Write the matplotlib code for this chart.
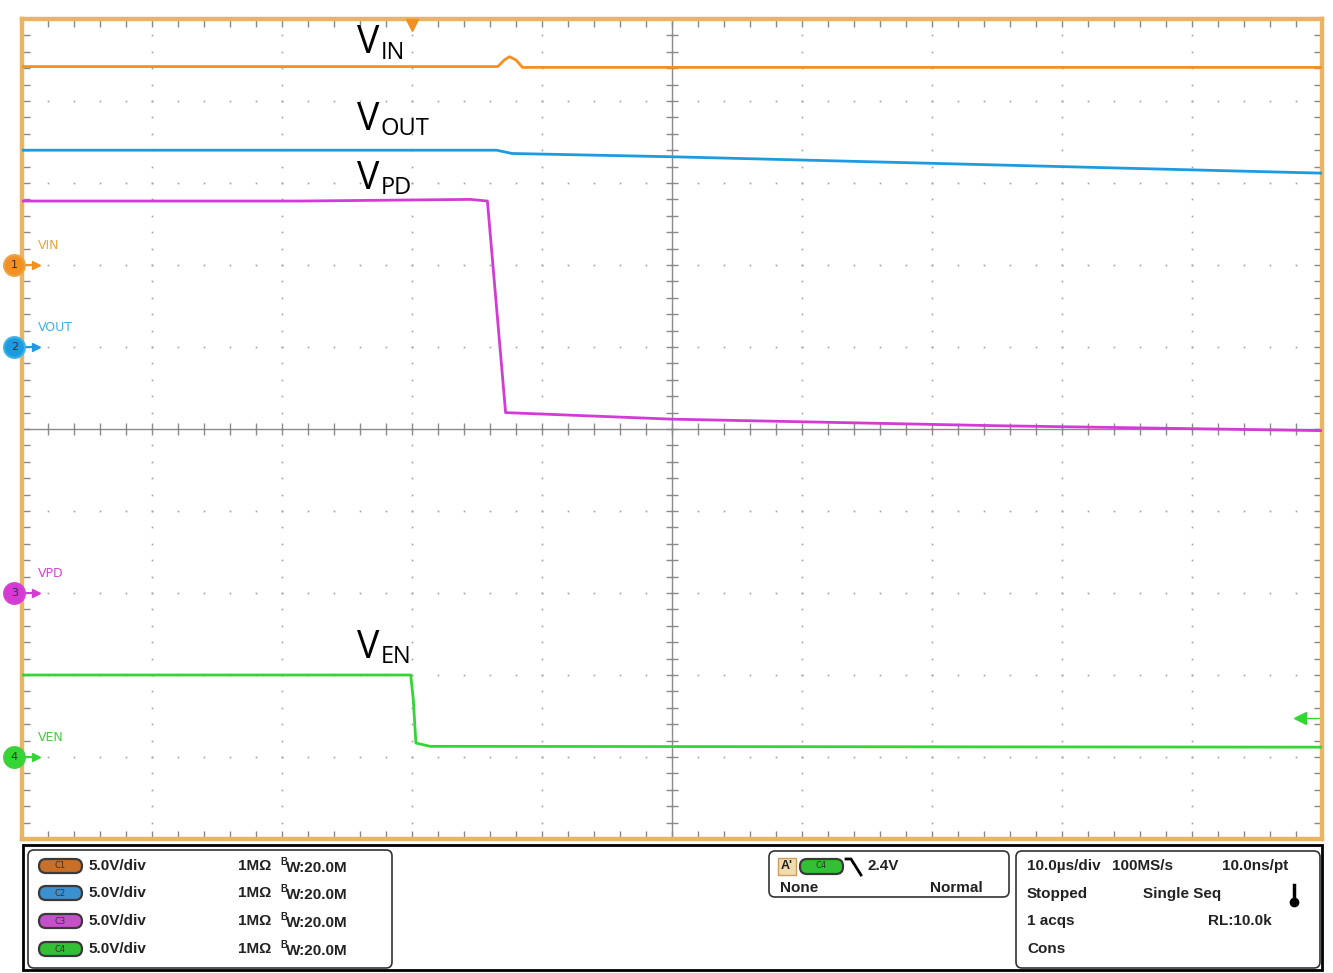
import numpy as np
import matplotlib.pyplot as plt
from matplotlib.patches import FancyBboxPatch, Rectangle

# scope capture: time in µs (trigger at 0), channel voltages in V
t_vin = [-30, 6.6, 7.1, 7.5, 8.0, 8.5, 70]
v_vin = [12.1, 12.1, 12.5, 12.7, 12.5, 12.05, 12.05]
t_vout = [-30, 6.5, 7.7, 20, 45, 70]
v_vout = [12.0, 12.0, 11.8, 11.6, 11.1, 10.6]
t_vpd = [-30, -8.6, 4.5, 5.8, 7.2, 20, 45, 70]
v_vpd = [23.9, 23.9, 24.0, 23.9, 11.0, 10.6, 10.2, 9.9]
t_ven = [-30, -0.1, 0.1, 0.3, 1.4, 70]
v_ven = [5.0, 5.0, 3.5, 0.85, 0.65, 0.6]

names = ["VIN", "VOUT", "VPD", "VEN"]
subscripts = ["IN", "OUT", "PD", "EN"]
offsets = [2, 1, -2, -4]          # channel ground position in divisions
volts_per_div = 5.0
trig_level = 2.4                  # on C4
scale_text = ["5.0V/div"] * 4

colors = ["#f39020", "#1e9be0", "#d43ad4", "#33d633"]
label_colors = ["#e9a446", "#3ab4e4", "#d444d4", "#44cc44"]
pill_colors = ["#c8702a", "#3a90d0", "#c650c8", "#34c034"]

W, H = 1333, 973
fig = plt.figure(figsize=(W / 100, H / 100), dpi=100)
ax = fig.add_axes([22 / W, 134 / H, 1300 / W, 820 / H])
ax.set_xlim(-30, 70)
ax.set_ylim(-5, 5)

# graticule: dots on division lines, centre cross with ticks
gx, gy = np.meshgrid(np.arange(-30, 71, 10), np.arange(-5, 5.01, 0.2))
ax.plot(gx.ravel(), gy.ravel(), ls="none", marker="s", ms=1.2, color="#a0a0a0", mew=0)
gx, gy = np.meshgrid(np.arange(-30, 71, 2), np.arange(-5, 6, 1))
ax.plot(gx.ravel(), gy.ravel(), ls="none", marker="s", ms=1.2, color="#a0a0a0", mew=0)
ax.axvline(20, color="#8a8a8a", lw=1)
ax.axhline(0, color="#8a8a8a", lw=1)
ys = np.arange(-5, 5.01, 0.2)
ax.plot(np.full(len(ys), 20), ys, ls="none", marker="_", ms=8, color="#8a8a8a")
xs = np.arange(-30, 71, 2)
ax.plot(xs, np.zeros(len(xs)), ls="none", marker="|", ms=8, color="#8a8a8a")

ax.set_xticks(np.arange(-30, 71, 2))
ax.set_yticks(np.arange(-5, 5.01, 0.2))
ax.tick_params(direction="in", length=6, width=1, color="#888888", top=True, right=True,
               labelbottom=False, labelleft=False)
for s in ax.spines.values():
    s.set_color("#e8b466")
    s.set_linewidth(3.2)

# traces
traces = [(t_vin, v_vin), (t_vout, v_vout), (t_vpd, v_vpd), (t_ven, v_ven)]
for (t, v), off, c in zip(traces, offsets, colors):
    ax.plot(t, np.array(v) / volts_per_div + off, color=c, lw=2, zorder=5)

# big annotations: V with a subscript
ann_x = -4.2
ann_y = [4.58, 3.65, 2.93, -2.79]
for sub, y in zip(subscripts, ann_y):
    ax.text(ann_x, y, "V", family="Open Sans", fontsize=27, color="black",
            va="baseline", ha="left", zorder=6)
    ax.annotate(sub, xy=(ann_x, y), xytext=(16.5, -4), textcoords="offset points",
                family="Open Sans", fontsize=17, color="black", va="baseline", ha="left",
                zorder=6)

# channel ground markers
for i, (off, c, lc, nm) in enumerate(zip(offsets, colors, label_colors, names)):
    ax.plot([-30.6, -28.9], [off, off], color=c, lw=1.5, clip_on=False, zorder=7)
    ax.plot(-28.9, off, marker=">", ms=6, color=c, clip_on=False, zorder=7)
    ax.plot(-30.6, off, marker="o", ms=15, mfc=c, mec=lc, mew=1.5, clip_on=False, zorder=8)
    ax.text(-30.6, off, str(i + 1), fontsize=8, color="#333333", ha="center", va="center",
            zorder=9, clip_on=False)
    ax.text(-28.8, off + 0.24, nm, fontsize=9, color=lc, ha="left", va="center")

# trigger markers
ax.plot(0, 4.93, marker="v", ms=9, color=colors[0], clip_on=False, zorder=8)
ty = trig_level / volts_per_div + offsets[3]
ax.plot([68.3, 70], [ty, ty], color=colors[3], lw=1, clip_on=False)
ax.plot(68.3, ty, marker="<", ms=8, color=colors[3], clip_on=False)

# bottom status panel (pixel coordinates)
ov = fig.add_axes([0, 0, 1, 1])
ov.set_xlim(0, W)
ov.set_ylim(H, 0)
ov.axis("off")
ov.patch.set_alpha(0)

ov.add_patch(Rectangle((23, 845), 1299, 125, fill=False, ec="black", lw=2))


def rbox(x0, y0, x1, y1, r=6, fc="none", ec="#333333", lw=1.2):
    ov.add_patch(FancyBboxPatch((x0, y0), x1 - x0, y1 - y0,
                                boxstyle=f"round,pad=0,rounding_size={r}",
                                fc=fc, ec=ec, lw=lw))


rbox(28, 850, 392, 968)
rbox(769, 851, 1009, 897)
rbox(1016, 851, 1320, 968)

pf = dict(family="Liberation Sans", weight="bold", fontsize=11, color="#222222", va="center")
rows = [866, 893, 921, 949]
for i, (y, pc, st) in enumerate(zip(rows, pill_colors, scale_text)):
    rbox(39, y - 7, 82, y + 7, r=7, fc=pc, ec="#3a3a3a", lw=1.6)
    ov.text(60, y, f"C{i + 1}", fontsize=6, color="#333333", ha="center", va="center")
    ov.text(88, y, st, **pf)
    ov.text(238, y, "1MΩ", **pf)
    ov.text(280, y - 4, "B", family="Liberation Sans", weight="bold", fontsize=7,
            color="#222222", va="center")
    ov.text(286, y + 2, "W:20.0M", **pf)

ov.add_patch(Rectangle((778, 858), 18, 17, fc="#f2dcae", ec="#c9a060", lw=1))
ov.text(787, 866, "A'", family="Liberation Sans", weight="bold", fontsize=9,
        color="#222222", ha="center", va="center")
rbox(800, 859, 843, 874, r=7, fc=pill_colors[3], ec="#3a3a3a", lw=1.6)
ov.text(821, 866, "C4", fontsize=6, color="#333333", ha="center", va="center")
ov.plot([846, 851, 861], [859, 859, 875], color="black", lw=2)
ov.text(868, 866, "2.4V", **pf)
ov.text(780, 888, "None", **pf)
ov.text(930, 888, "Normal", **pf)

ov.text(1027, 866, "10.0µs/div", **pf)
ov.text(1112, 866, "100MS/s", **pf)
ov.text(1222, 866, "10.0ns/pt", **pf)
ov.text(1027, 894, "Stopped", **pf)
ov.text(1143, 894, "Single Seq", **pf)
ov.plot([1294, 1294], [885, 900], color="black", lw=2.5)
ov.plot(1294, 902, marker="o", ms=6, color="black")
ov.text(1027, 921, "1 acqs", **pf)
ov.text(1208, 921, "RL:10.0k", **pf)
ov.text(1027, 949, "Cons", **pf)

fig.savefig("out.png", dpi=100)
